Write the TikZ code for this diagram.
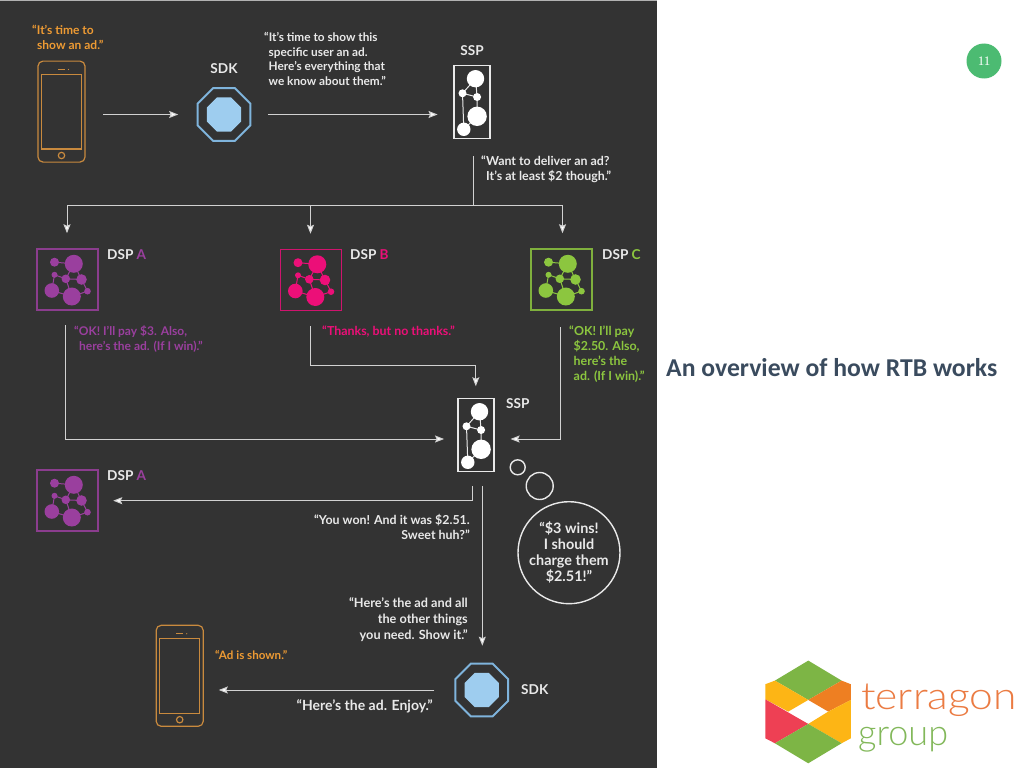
\documentclass[tikz,border=0pt]{standalone}
\usepackage{fontspec}
\setmainfont{Lato}
\newfontfamily\carl{Carlito}
\newfontfamily\logofont{Lato}[UprightFont=* Light]
\newfontfamily\numfont{Liberation Serif}
\usetikzlibrary{arrows.meta,shapes.geometric}
\definecolor{panel}{HTML}{333333}
\definecolor{wtxt}{HTML}{E9E9E9}
\definecolor{lnc}{HTML}{D2D2D2}
\definecolor{orgt}{HTML}{EE9B33}
\definecolor{orgl}{HTML}{C98A3E}
\definecolor{purp}{HTML}{9A3F9E}
\definecolor{pink}{HTML}{EC0F78}
\definecolor{grn}{HTML}{8CC63F}
\definecolor{sdkO}{HTML}{7FB4DC}
\definecolor{sdkI}{HTML}{9ECDEF}
\definecolor{titlec}{HTML}{3A4B5E}
\definecolor{badge}{HTML}{4CBB72}
\definecolor{lgreen}{HTML}{7DB545}
\definecolor{lyel}{HTML}{FDB515}
\definecolor{lorg}{HTML}{EE7F22}
\definecolor{lred}{HTML}{EE4054}
\definecolor{lotxt}{HTML}{EB7B42}
\definecolor{lgtxt}{HTML}{82B85A}
\tikzset{
  x=1pt,y=-1pt,
  conn/.style={draw=lnc,line width=1pt},
  arr/.style={conn,-{Stealth[length=9pt,width=7pt,inset=1.5pt,fill=white]}},
  txt/.style={inner sep=0pt,text=wtxt,font=\fontsize{12.4}{14.8}\bfseries\selectfont,align=left},
  txtr/.style={txt,align=right},
  lab/.style={inner sep=0pt,text=wtxt,font=\fontsize{13.6}{15}\bfseries\selectfont},
  sqbox/.style={draw=#1!85!panel,line width=1.5pt,minimum width=61pt,minimum height=61pt,inner sep=0pt},
  sspbox/.style={draw=wtxt,line width=1.5pt,minimum width=36pt,minimum height=73pt,inner sep=0pt},
  phonebody/.style={draw=orgl,line width=1.2pt,rounded corners=5pt,minimum width=47pt,minimum height=101pt,inner sep=0pt},
  sdko/.style={regular polygon,regular polygon sides=8,draw=sdkO,line width=2pt,minimum size=57pt,inner sep=0pt},
  sdki/.style={regular polygon,regular polygon sides=8,fill=sdkI,minimum size=37pt,inner sep=0pt},
  thought/.style={circle,draw=wtxt,line width=1.4pt,inner sep=0pt},
}
\newcommand{\dspnet}[3]{%
 \begin{scope}[shift={(#1,#2)}]
  \draw[#3,line width=1pt] (-13,-17.3)--(6.3,-15.7) (6.3,-15.7)--(14,0) (6.3,-15.7)--(-1.7,-.7)
    (-13,-4.7)--(-1.7,-.7)--(14,0) (-13,-4.7)--(-15.7,11)--(4.3,17)--(20,11.7)--(14,0) (-1.7,-.7)--(4.3,17);
  \fill[#3] (-13,-17.3) circle (4.5) (6.3,-15.7) circle (9) (-13,-4.7) circle (3) (-1.7,-.7) circle (4.3)
    (14,0) circle (5.3) (-15.7,11) circle (7.3) (4.3,17) circle (9) (20,11.7) circle (3.3);
 \end{scope}}
\newcommand{\sspnet}[2]{%
 \begin{scope}[shift={(#1,#2)}]
  \draw[wtxt,line width=1pt] (3.7,-23.3)--(-9.3,-8.7)--(5.3,-5)--(3.7,-23.3) (5.3,-5)--(5.3,14.3)--(-8,27.3)--(-9.3,-8.7);
  \fill[white] (3.7,-23.3) circle (8.7) (-9.3,-8.7) circle (4) (5.3,-5) circle (4) (5.3,14.3) circle (9.7) (-8,27.3) circle (6.7);
 \end{scope}}
\newcommand{\phoneicon}[3]{%
 \node[phonebody] (#1) at (#2,#3) {};
 \begin{scope}[shift={(#2,#3)}]
  \draw[orgl,line width=1.2pt] (-20,-37.3) rectangle (20,37.4);
  \draw[orgl,line width=1.2pt] (0,43.9) circle (3.2);
  \draw[orgl,line width=1.2pt] (-3.5,-42.1)--(3.5,-42.1);
  \fill[orgl] (7,-42.1) circle (.6);
 \end{scope}}
\begin{document}
\begin{tikzpicture}
\useasboundingbox (0,0) rectangle (1024,768);
\fill[white] (0,0) rectangle (1024,768);
\fill[panel] (0,0) rectangle (657,768);
\fill[gray!60] (0,0) rectangle (657,1.5);
% nodes
\phoneicon{phoneA}{61.5}{111.6}
\phoneicon{phoneB}{179.7}{675.8}
\node[sdko] (sdkA) at (224,114.5) {};
\node[sdki] at (sdkA) {};
\node[sdko] (sdkB) at (481.7,690) {};
\node[sdki] at (sdkB) {};
\node[sspbox] (sspA) at (471.8,102) {};
\sspnet{471.8}{102}
\node[sspbox] (sspB) at (475.8,435) {};
\sspnet{475.8}{435}
\node[sqbox=purp] (dspA) at (67.5,279.5) {};
\dspnet{67.5}{279.5}{purp}
\node[sqbox=pink] (dspB) at (311,280) {};
\dspnet{311}{280}{pink}
\node[sqbox=grn] (dspC) at (561.5,279.5) {};
\dspnet{561.5}{279.5}{grn}
\node[sqbox=purp] (dspD) at (67.5,500.5) {};
\dspnet{67.5}{500.5}{purp}
% thought bubbles
\node[thought,minimum size=15pt] (thA) at (517.7,467.3) {};
\node[thought,minimum size=27pt] (thB) at (539.7,486) {};
\node[thought,minimum size=102pt,align=center,text=wtxt,font=\fontsize{14.4}{16}\bfseries\selectfont] (thC) at (569,552.7) {“\$3 wins!\\I should\\charge them\\\$2.51!”};
% free ends
\coordinate (a1) at (473,156);
\coordinate (a2) at (473,205);
\coordinate (b1) at (67,205);
\coordinate (b2) at (310.5,205);
\coordinate (b3) at (562.5,205);
\coordinate (c1) at (65.3,325);
\coordinate (c2) at (65.3,439);
\coordinate (d1) at (310,326);
\coordinate (d2) at (310,365);
\coordinate (d3) at (475.8,365);
\coordinate (e1) at (560.7,327);
\coordinate (e2) at (560.7,439);
\coordinate (f1) at (472,486);
\coordinate (f2) at (472,500.7);
\coordinate (g1) at (482.3,486);
% connectors
\draw[arr,shorten <=17.5pt,shorten >=18.5pt] (sdkA.west -| phoneA.east) -- (sdkA.west);
\draw[arr,shorten <=16.5pt,shorten >=15.5pt] (sdkA.east) -- (sdkA.east -| sspA.west);
\draw[conn] (a1) -- (a2);
\draw[conn] (b1) -- (b3);
\draw[arr,shorten >=15pt] (b1) -- (dspA.north -| b1);
\draw[arr,shorten >=15pt] (b2) -- (dspB.north -| b2);
\draw[arr,shorten >=15pt] (b3) -- (dspC.north -| b3);
\draw[arr,shorten >=13pt] (c1) -- (c2) -- (sspB.west |- c2);
\draw[arr,shorten >=11.5pt] (d1) -- (d2) -- (d3) -- (sspB.north);
\draw[arr,shorten >=16pt] (e1) -- (e2) -- (sspB.east |- e2);
\draw[arr,shorten >=14.5pt] (f1) -- (f2) -- (dspD.east |- f2);
\draw[arr,shorten >=17pt] (g1) -- (sdkB.north -| g1);
\draw[arr,shorten <=20pt,shorten >=15pt] (sdkB.west) -- (sdkB.west -| phoneB.east);
% labels
\node[txt,font=\fontsize{12}{14.8}\bfseries\selectfont,text=orgt,anchor=west] at (32,37.5) {“It's time to\\\hspace*{5pt}show an ad.”};
\node[txt,font=\fontsize{11.8}{14.8}\bfseries\selectfont,anchor=west] at (264,59) {“It's time to show this\\\hspace*{4.5pt}specific user an ad.\\\hspace*{4.5pt}Here's everything that\\\hspace*{4.5pt}we know about them.”};
\node[lab] at (224,69) {SDK};
\node[lab] at (472,51) {SSP};
\node[txt,anchor=west] at (481,169.5) {“Want to deliver an ad?\\\hspace*{5pt}It's at least \$2 though.”};
\node[lab,anchor=west] at (107,255) {DSP \textcolor{purp}{A}};
\node[lab,anchor=west] at (350,255) {DSP \textcolor{pink}{B}};
\node[lab,anchor=west] at (602,255) {DSP \textcolor{grn}{C}};
\node[lab,anchor=west] at (107,476) {DSP \textcolor{purp}{A}};
\node[txt,font=\fontsize{12}{14.8}\bfseries\selectfont,text=purp,anchor=west] at (74,339) {“OK! I'll pay \$3. Also,\\\hspace*{5pt}here's the ad. (If I win).”};
\node[txt,text=pink,anchor=west] at (322,332) {“Thanks, but no thanks.”};
\node[txt,text=grn,anchor=west] at (569,354) {“OK! I'll pay\\\hspace*{4.5pt}\$2.50. Also,\\\hspace*{4.5pt}here's the\\\hspace*{4.5pt}ad. (If I win).”};
\node[lab,anchor=west] at (506,404) {SSP};
\node[txtr,anchor=east] at (470,527) {“You won! And it was \$2.51.\\Sweet huh?”};
\node[txtr,font=\fontsize{12.7}{16}\bfseries\selectfont,anchor=east] at (468,620) {“Here's the ad and all\\the other things\\you need. Show it.”};
\node[txt,text=orgt,font=\fontsize{11.6}{15}\bfseries\selectfont,anchor=west] at (215,655) {“Ad is shown.”};
\node[txt,font=\fontsize{14}{16}\bfseries\selectfont,anchor=east] at (433,706) {“Here's the ad. Enjoy.”};
\node[lab,anchor=west] at (521,690) {SDK};
% right side
\node[inner sep=0pt,text=titlec,font=\carl\fontsize{25.7}{28}\bfseries\selectfont,anchor=west] at (666,367.5) {An overview of how RTB works};
\node[circle,fill=badge,minimum size=35pt,inner sep=0pt,text=white,font=\numfont\fontsize{13}{15}\selectfont] at (984,61) {11};
% logo
\begin{scope}[x=.3333pt,y=-.3333pt,shift={(2250,1950)}]
 \fill[lgreen] (175,32)--(275,92)--(175,150)--(75,92)--cycle;
 \fill[lorg] (275,92)--(303,103)--(303,150)--(235,185)--(175,150)--cycle;
 \fill[lyel] (75,92)--(175,150)--(115,185)--(46,148)--(46,103)--cycle;
 \fill[lred] (46,148)--(175,222)--(75,280)--(46,265)--cycle;
 \fill[lyel] (235,185)--(303,150)--(303,265)--(275,280)--(175,222)--cycle;
 \fill[lgreen] (175,222)--(275,280)--(175,340)--(75,280)--cycle;
\end{scope}
\node[inner sep=0pt,anchor=base west,text=lotxt,font=\logofont\fontsize{38}{38}\selectfont] at (861,709) {\scalebox{1.12}[1]{terragon}};
\node[inner sep=0pt,anchor=base west,text=lgtxt,font=\logofont\fontsize{36}{36}\selectfont] at (858,745) {group};
\end{tikzpicture}
\end{document}
